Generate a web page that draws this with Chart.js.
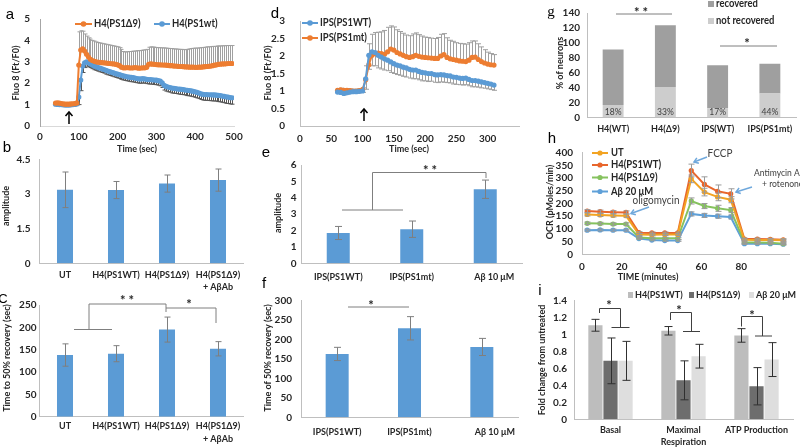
<!DOCTYPE html>
<html><head><meta charset="utf-8">
<script src="https://cdn.jsdelivr.net/npm/chart.js@4.4.1/dist/chart.umd.min.js"></script>
<style>
html,body{margin:0;padding:0;background:#fff;}
#wrap{position:relative;width:800px;height:447px;overflow:hidden;background:#fff;}
canvas{position:absolute;left:0;top:0;}
</style></head><body><div id="wrap">
<canvas id="ca" width="800" height="447"></canvas>
<canvas id="cd" width="800" height="447"></canvas>
<canvas id="cg" width="800" height="447"></canvas>
<canvas id="cb" width="800" height="447"></canvas>
<canvas id="ce" width="800" height="447"></canvas>
<canvas id="ch" width="800" height="447"></canvas>
<canvas id="cc" width="800" height="447"></canvas>
<canvas id="cf" width="800" height="447"></canvas>
<canvas id="ci" width="800" height="447"></canvas>
</div>
<script>
// ---------- DATA ----------
// Panel a
const timeA = [40,45,50,55,60,65,70,75,80,85,90,95,100,105,110,115,120,125,130,135,140,145,150,155,160,165,170,175,180,185,190,195,200,205,210,215,220,225,230,235,240,245,250,255,260,265,270,275,280,285,290,295,300,305,310,315,320,325,330,335,340,345,350,355,360,365,370,375,380,385,390,395,400,405,410,415,420,425,430,435,440,445,450,455,460,465,470,475,480,485,490,495];
const a_PS1d9 = [1.07,1.08,1.07,1.05,1.03,1.02,1.02,1.02,1.03,1.04,1.05,1.08,
2.85,3.55,3.6,3.5,3.35,3.22,3.12,3.06,3.02,3.0,
2.98,2.97,2.96,2.95,2.94,2.93,2.92,2.91,2.9,2.88,
2.86,2.82,2.75,2.72,2.72,2.73,2.72,2.71,2.72,2.73,
2.72,2.7,2.71,2.72,2.72,2.74,2.88,2.9,2.89,2.88,
2.87,2.86,2.86,2.85,2.85,2.84,2.83,2.82,2.82,2.8,
2.8,2.79,2.78,2.78,2.77,2.76,2.76,2.75,2.75,2.75,
2.74,2.74,2.75,2.75,2.76,2.77,2.78,2.79,2.8,2.82,
2.84,2.86,2.88,2.89,2.9,2.9,2.91,2.92,2.92,2.92];
const a_PS1d9_err = [0.05,0.05,0.05,0.05,0.05,0.05,0.05,0.05,0.05,0.05,0.05,0.07,
1.55,0.9,0.83,0.8,0.85,0.9,0.94,0.94,0.95,0.93,
0.92,0.91,0.9,0.89,0.88,0.87,0.86,0.85,0.84,0.84,
0.84,0.84,0.83,0.76,0.74,0.74,0.76,0.77,0.78,0.77,
0.8,0.82,0.82,0.83,0.84,0.84,0.8,0.8,0.8,0.8,
0.8,0.8,0.8,0.8,0.8,0.8,0.8,0.8,0.8,0.8,
0.8,0.8,0.8,0.8,0.8,0.81,0.82,0.85,0.87,0.88,
0.9,0.9,0.9,0.91,0.91,0.91,0.92,0.91,0.91,0.9,
0.88,0.87,0.86,0.85,0.85,0.85,0.85,0.84,0.84,0.84];
const a_PS1wt = [1.02,1.01,1.0,1.0,0.99,0.98,0.98,0.98,0.99,1.0,1.01,1.03,
1.35,2.15,2.8,2.95,3.0,2.96,2.9,2.85,2.8,2.77,
2.73,2.7,2.67,2.64,2.6,2.57,2.54,2.51,2.48,2.45,
2.42,2.4,2.37,2.34,2.32,2.3,2.28,2.27,2.26,2.24,
2.22,2.2,2.2,2.21,2.2,2.18,2.17,2.17,2.16,2.15,
2.14,2.12,2.1,2.02,1.9,1.85,1.82,1.8,1.77,1.76,
1.75,1.73,1.72,1.71,1.7,1.68,1.67,1.66,1.64,1.62,
1.6,1.57,1.54,1.5,1.48,1.47,1.47,1.46,1.46,1.45,
1.45,1.44,1.43,1.42,1.4,1.38,1.36,1.35,1.33,1.32];
const a_PS1wt_err = [0.04,0.04,0.04,0.04,0.04,0.04,0.04,0.04,0.04,0.04,0.04,0.05,
0.35,0.5,0.3,0.22,0.2,0.18,0.17,0.17,0.17,0.17,
0.17,0.17,0.17,0.17,0.18,0.18,0.18,0.18,0.18,0.18,
0.18,0.18,0.19,0.19,0.19,0.19,0.19,0.2,0.2,0.2,
0.2,0.2,0.2,0.2,0.2,0.2,0.21,0.21,0.21,0.21,
0.21,0.21,0.22,0.22,0.22,0.22,0.22,0.22,0.23,0.23,
0.23,0.23,0.24,0.24,0.24,0.24,0.25,0.25,0.25,0.25,
0.26,0.26,0.26,0.26,0.27,0.27,0.27,0.27,0.28,0.28,
0.28,0.28,0.29,0.29,0.29,0.29,0.3,0.3,0.3,0.3];

// Panel d
const timeD = [60,65,70,75,80,85,90,95,100,105,110,115,120,125,130,135,140,145,150,155,160,165,170,175,180,185,190,195,200,205,210,215,220,225,230,235,240,245,250,255,260,265,270,275,280,285,290,295,300,305,310];
const d_PS1WT = [0.97,0.96,0.93,0.95,0.97,0.98,0.98,0.99,1.0,
1.35,2.02,2.12,2.1,2.02,1.97,1.92,1.88,1.83,1.78,
1.74,1.72,1.68,1.66,1.62,1.6,1.6,1.56,1.53,1.52,
1.5,1.5,1.47,1.46,1.47,1.46,1.44,1.43,1.4,1.39,
1.37,1.36,1.37,1.33,1.3,1.3,1.28,1.26,1.24,1.22,
1.2,1.17];
const d_PS1WT_err = [0.04,0.04,0.04,0.04,0.04,0.04,0.04,0.04,0.04,
0.3,0.4,0.4,0.38,0.36,0.34,0.32,0.3,0.3,0.28,
0.27,0.27,0.26,0.26,0.25,0.25,0.25,0.24,0.24,0.23,
0.23,0.22,0.22,0.22,0.21,0.21,0.2,0.2,0.2,0.2,
0.19,0.19,0.19,0.18,0.18,0.18,0.17,0.17,0.16,0.16,
0.16,0.15];
const d_PS1mt = [1.02,1.03,1.02,1.02,1.01,1.0,1.0,1.01,1.04,
1.32,1.75,2.02,2.07,2.08,2.07,2.05,2.12,2.2,2.17,
2.1,2.06,2.02,1.98,1.96,1.98,2.02,1.99,1.97,1.96,
1.95,1.94,1.93,1.93,2.0,2.04,1.96,1.92,1.9,1.88,
1.86,1.85,1.84,1.88,1.96,1.97,1.9,1.84,1.8,1.77,
1.75,1.74];
const d_PS1mt_err = [0.05,0.05,0.05,0.05,0.05,0.05,0.05,0.05,0.05,
0.4,0.6,0.6,0.6,0.6,0.62,0.68,0.7,0.66,0.66,
0.65,0.64,0.63,0.62,0.62,0.65,0.64,0.62,0.6,0.58,
0.58,0.57,0.57,0.6,0.62,0.6,0.56,0.53,0.52,0.5,
0.5,0.5,0.5,0.5,0.47,0.46,0.45,0.42,0.38,0.34,
0.32,0.3];

// Panel g
const g_labels = ['H4(WT)','H4(Δ9)','IPS(WT)','IPS(PS1mt)'];
const g_notRecovered = [16.4,40.6,12,32];
const g_recovered = [74.6,83,58,40];
const g_pct = ['18%','33%','17%','44%'];

// Panel b
const b_labels = ['UT','H4(PS1WT)','H4(PS1Δ9)',['H4(PS1Δ9)','+ AβAb']];
const b_vals = [3.18,3.17,3.45,3.6];
const b_err = [0.77,0.37,0.37,0.48];

// Panel c
const c_labels = ['UT','H4(PS1WT)','H4(PS1Δ9)',['H4(PS1Δ9)','+ AβAb']];
const c_vals = [138,141,195,152];
const c_err = [25,18,28,16];

// Panel e
const e_labels = ['IPS(PS1WT)','IPS(PS1mt)','Aβ 10 μM'];
const e_vals = [1.85,2.08,4.52];
const e_err = [0.4,0.5,0.56];

// Panel f
const f_labels = ['IPS(PS1WT)','IPS(PS1mt)','Aβ 10 μM'];
const f_vals = [163,229,181];
const f_err = [17,30,22];

// Panel h
const h_time = [2.6,9.1,15.6,22.1,28.6,35.1,41.6,48.1,54.9,61.5,68.1,74.7,81.6,88.1,94.6,101.1];
const h_UT = [157,155,153,152,78,77,78,78,297,245,226,215,57,56,56,55];
const h_WT = [170,168,166,165,85,84,84,84,330,275,248,238,60,60,59,57];
const h_d9 = [122,121,119,119,66,63,63,63,210,190,181,174,47,46,45,42];
const h_Ab = [95,96,95,95,62,56,54,54,159,153,150,147,42,42,42,40];
const h_UT_err = [6,6,6,6,4,4,4,4,15,15,15,12,4,4,4,4];
const h_WT_err = [6,6,6,6,4,4,4,4,25,30,25,20,4,4,4,4];
const h_d9_err = [5,5,5,5,4,4,4,4,12,10,12,10,4,4,4,4];
const h_Ab_err = [4,4,4,4,3,3,3,3,8,8,8,8,3,3,3,3];

// Panel i
const i_labels = ['Basal',['Maximal','Respiration'],'ATP Production'];
const i_WT = [1.11,1.045,0.99];
const i_WT_err = [0.07,0.05,0.08];
const i_d9 = [0.69,0.46,0.39];
const i_d9_err = [0.27,0.23,0.22];
const i_Ab = [0.69,0.745,0.705];
const i_Ab_err = [0.23,0.14,0.2];

// ---------- STYLE / HELPERS ----------
const FONT = 'Lato, "Open Sans", "DejaVu Sans", sans-serif';
const LETTER = '"Liberation Sans", Arial, sans-serif';
const ORANGE = '#ed7d31', BLUE = '#5b9bd5', BAR = '#5b9bd5';
Chart.defaults.font.family = FONT;
Chart.defaults.font.size = 10;
Chart.defaults.font.weight = 'bold';
Chart.defaults.color = '#262626';

function T(ctx, s, x, y, o = {}) {
  ctx.save();
  const w = o.w || 'bold';
  ctx.font = `${w} ${o.s || 10}px ${o.f || FONT}`;
  ctx.fillStyle = o.c || '#262626';
  ctx.textAlign = o.a || 'center';
  ctx.textBaseline = 'middle';
  ctx.translate(x, y);
  if (o.rot) ctx.rotate(-Math.PI / 2);
  const sx = o.sx !== undefined ? o.sx : (w === 'bold' ? 0.9 : 0.95);
  ctx.scale(sx, 1);
  ctx.fillText(s, 0, 0);
  ctx.restore();
}
function L(ctx, pts, c = '#7f7f7f', w = 1) {
  ctx.save(); ctx.strokeStyle = c; ctx.lineWidth = w; ctx.beginPath();
  pts.forEach((p, i) => i ? ctx.lineTo(p[0], p[1]) : ctx.moveTo(p[0], p[1]));
  ctx.stroke(); ctx.restore();
}
function DOT(ctx, x, y, r, c) { ctx.save(); ctx.fillStyle = c; ctx.beginPath(); ctx.arc(x, y, r, 0, Math.PI * 2); ctx.fill(); ctx.restore(); }
function RECT(ctx, x, y, w, h, c) { ctx.save(); ctx.fillStyle = c; ctx.fillRect(x, y, w, h); ctx.restore(); }
function STAR(ctx, s, x, y, size = 14, c = '#262626') {
  ctx.save(); ctx.font = `bold ${size}px ${FONT}`; ctx.fillStyle = c; ctx.textAlign = 'center'; ctx.textBaseline = 'alphabetic';
  ctx.fillText(s, x, y + 0.57 * size); ctx.restore();
}
function ARROW(ctx, x1, y1, x2, y2, c, w = 1.5, hl = 5) {
  L(ctx, [[x1, y1], [x2, y2]], c, w);
  const a = Math.atan2(y2 - y1, x2 - x1);
  L(ctx, [[x2 - hl * Math.cos(a - 0.6), y2 - hl * Math.sin(a - 0.6)], [x2, y2], [x2 - hl * Math.cos(a + 0.6), y2 - hl * Math.sin(a + 0.6)]], c, w);
}
function LETTERT(ctx, s, x, y, o = {}) { T(ctx, s, x, y, Object.assign({ w: 'normal', s: 15, f: LETTER, c: '#000', sx: 1 }, o)); }
// category labels drawn at the positions given by the chart's own x scale
function CATS(ctx, chart, labels, y0, lh, o = {}, dx = []) {
  const xs = chart.scales.x;
  labels.forEach((lab, j) => {
    const x = xs.getPixelForValue(j) + (dx[j] || 0);
    (Array.isArray(lab) ? lab : [lab]).forEach((ln, k) => T(ctx, ln, x, y0 + k * lh, o));
  });
}

function drawErr(chart, behind) {
  const ctx = chart.ctx;
  chart.data.datasets.forEach((ds, i) => {
    if (!ds.err || !!ds.errBehind !== behind) return;
    const meta = chart.getDatasetMeta(i);
    const ys = chart.scales[meta.yAxisID];
    ctx.save();
    ctx.strokeStyle = ds.errColor || '#7f7f7f';
    ctx.lineWidth = ds.errWidth || 1;
    meta.data.forEach((el, j) => {
      const v = meta.controller.getParsed(j).y, e = ds.err[j];
      const x = Math.round(el.x) + 0.5;
      const top = ys.getPixelForValue(ds.errDir === 'down' ? v : v + e);
      const bot = ys.getPixelForValue(ds.errDir === 'up' ? v : v - e);
      const cw = ds.capW || 3;
      ctx.beginPath();
      ctx.moveTo(x, top); ctx.lineTo(x, bot);
      if (ds.errDir !== 'down') { ctx.moveTo(x - cw, top); ctx.lineTo(x + cw, top); }
      if (ds.errDir !== 'up') { ctx.moveTo(x - cw, bot); ctx.lineTo(x + cw, bot); }
      ctx.stroke();
    });
    ctx.restore();
  });
}
const errPlugin = {
  id: 'errbars',
  beforeDatasetsDraw(chart) { drawErr(chart, true); },
  afterDatasetsDraw(chart) { drawErr(chart, false); }
};

function axis(o) {
  const t = { display: o.noTicks ? false : true, padding: o.pad, autoSkip: false, maxRotation: 0, minRotation: 0, color: '#262626',
    font: { size: o.fs || 10, weight: 'bold', lineHeight: 1.2 } };
  if (o.step !== undefined) t.stepSize = o.step;
  t.callback = o.cb || (v => +(+v).toFixed(3));
  const a = {
    type: o.type, stacked: !!o.stacked,
    grid: { display: false, drawTicks: false },
    border: { display: o.border !== false, color: o.bc || '#bfbfbf', width: 1 },
    ticks: t, afterFit: o.fit
  };
  if (o.type === 'category') delete t.callback;
  if (o.min !== undefined) a.min = o.min;
  if (o.max !== undefined) a.max = o.max;
  return a;
}
function mk(id, type, data, area, xo, yo, deco) {
  const XH = 20;
  xo.fit = s => { s.height = XH; };
  yo.fit = s => { s.width = area.l; };
  return new Chart(document.getElementById(id), {
    type, data,
    options: {
      responsive: false, animation: false, events: [],
      layout: { padding: { left: 0, top: area.t, right: 800 - area.r, bottom: 447 - area.b - XH } },
      plugins: { legend: { display: false }, tooltip: { enabled: false } },
      scales: { x: axis(xo), y: axis(yo) }
    },
    plugins: [errPlugin, { id: 'deco_' + id, afterDraw: c => deco(c.ctx, c) }]
  });
}
const pts = (xs, ys) => xs.map((x, i) => ({ x: x, y: ys[i] }));
function lineDs(xs, ys, color, extra) {
  return Object.assign({ data: pts(xs, ys), borderColor: color, backgroundColor: color, borderWidth: 2,
    pointRadius: 2.6, pointBorderWidth: 0, tension: 0 }, extra);
}
function barDs(vals, color, pct, extra) {
  return Object.assign({ data: vals, backgroundColor: color, categoryPercentage: 1, barPercentage: pct }, extra);
}

// ---------- PANEL a ----------
mk('ca', 'line', { datasets: [
  lineDs(timeA, a_PS1d9, ORANGE, { err: a_PS1d9_err, errDir: 'up', errColor: '#a0a0a0', errBehind: true, capW: 2 }),
  lineDs(timeA, a_PS1wt, BLUE, { err: a_PS1wt_err, errDir: 'down', errColor: '#555555', errBehind: true, capW: 2 })
]}, { l: 40, r: 234, t: 19, b: 126 },
{ type: 'linear', min: 0, max: 500, step: 100, pad: 5, bc: '#d9d9d9' },
{ type: 'linear', min: 0, max: 5, step: 1, pad: 10, bc: '#a6a6a6' },
(ctx) => {
  LETTERT(ctx, 'a', 10, 15);
  T(ctx, 'Fluo 8 (Ft/F0)', 16, 73, { rot: true });
  T(ctx, 'Time (sec)', 137, 149);
  L(ctx, [[75, 24], [92, 24]], ORANGE, 2); DOT(ctx, 83.5, 24, 2.8, ORANGE);
  T(ctx, 'H4(PS1Δ9)', 94, 24, { a: 'left', s: 10.5 });
  L(ctx, [[154, 24], [170, 24]], BLUE, 2); DOT(ctx, 162, 24, 2.8, BLUE);
  T(ctx, 'H4(PS1wt)', 172, 24, { a: 'left', s: 10.5 });
  L(ctx, [[69, 124], [69, 112]], '#000', 1.5);
  L(ctx, [[65.5, 116], [69, 112], [72.5, 116]], '#000', 1.5);
});

// ---------- PANEL d ----------
mk('cd', 'line', { datasets: [
  lineDs(timeD, d_PS1WT, BLUE, { err: d_PS1WT_err, errDir: 'down', errColor: '#a0a0a0', errBehind: true, capW: 2.5 }),
  lineDs(timeD, d_PS1mt, ORANGE, { err: d_PS1mt_err, errDir: 'up', errColor: '#a0a0a0', errBehind: true, capW: 2.5 })
]}, { l: 300, r: 519, t: 19, b: 126 },
{ type: 'linear', min: 0, max: 350, step: 50, pad: 7, cb: v => (v > 300 ? '' : v) },
{ type: 'linear', min: 0, max: 3, step: 0.5, pad: 15 },
(ctx) => {
  LETTERT(ctx, 'd', 275, 14);
  T(ctx, 'Fluo 8 (Ft/F0)', 268, 73, { rot: true });
  T(ctx, 'Time (sec)', 409, 149);
  L(ctx, [[302, 23], [318, 23]], BLUE, 2); DOT(ctx, 310, 23, 2.8, BLUE);
  T(ctx, 'IPS(PS1WT)', 320, 23, { a: 'left', s: 10.5 });
  L(ctx, [[302, 38], [318, 38]], ORANGE, 2); DOT(ctx, 310, 38, 2.8, ORANGE);
  T(ctx, 'IPS(PS1mt)', 320, 38, { a: 'left', s: 10.5 });
  L(ctx, [[364, 121], [364, 109]], '#000', 1.5);
  L(ctx, [[360.5, 113], [364, 109], [367.5, 113]], '#000', 1.5);
});

// ---------- PANEL g ----------
mk('cg', 'bar', { labels: g_labels, datasets: [
  barDs(g_notRecovered, '#cdcdcd', 0.4),
  barDs(g_recovered, '#9f9f9f', 0.4)
]}, { l: 587, r: 796, t: 12.7, b: 117.3 },
{ type: 'category', pad: 5, stacked: true, noTicks: true },
{ type: 'linear', min: 0, max: 140, step: 20, pad: 7, stacked: true },
(ctx, c) => {
  LETTERT(ctx, 'g', 551, 12, { f: '"Liberation Serif", serif' });
  T(ctx, '% of neurons', 560, 63, { rot: true });
  CATS(ctx, c, g_labels, 128.5, 12);
  RECT(ctx, 708, 1, 6, 6, '#9f9f9f'); T(ctx, 'recovered', 716, 4, { a: 'left', s: 10.5 });
  RECT(ctx, 708, 18, 6, 6, '#cdcdcd'); T(ctx, 'not recovered', 716, 21, { a: 'left', s: 10.5 });
  const m = c.getDatasetMeta(0);
  m.data.forEach((el, j) => T(ctx, g_pct[j], el.x, 112.5, { w: 'normal', s: 9, c: '#404040' }));
  L(ctx, [[616, 14], [672, 14]]); STAR(ctx, '* *', 641, 10, 13);
  L(ctx, [[720, 46], [777, 46]]); STAR(ctx, '*', 747, 41, 13);
});

// ---------- PANEL b ----------
mk('cb', 'bar', { labels: b_labels, datasets: [
  barDs(b_vals, BAR, 0.314, { err: b_err, errDir: 'both', errColor: '#7f7f7f', capW: 3 })
]}, { l: 39.5, r: 243.5, t: 159.3, b: 263.3 },
{ type: 'category', pad: 6, noTicks: true },
{ type: 'linear', min: 0, max: 4.5, step: 1.5, pad: 9 },
(ctx, c) => {
  LETTERT(ctx, 'b', 7, 148);
  T(ctx, 'amplitude', 6, 206, { rot: true });
  CATS(ctx, c, b_labels, 275, 12);
});

// ---------- PANEL e ----------
mk('ce', 'bar', { labels: e_labels, datasets: [
  barDs(e_vals, BAR, 0.313, { err: e_err, errDir: 'both', errColor: '#7f7f7f', capW: 3.5 })
]}, { l: 301.5, r: 522, t: 165, b: 263.3 },
{ type: 'category', pad: 7, noTicks: true },
{ type: 'linear', min: 0, max: 6, step: 1, pad: 5 },
(ctx, c) => {
  LETTERT(ctx, 'e', 266, 153);
  T(ctx, 'amplitude', 278, 213, { rot: true });
  CATS(ctx, c, e_labels, 277, 12, {}, [0, 0, 9]);
  L(ctx, [[342, 210], [403, 210]]);
  L(ctx, [[372.5, 210], [372.5, 172.5], [486, 172.5], [486, 178]]);
  STAR(ctx, '* *', 430, 168, 13);
});

// ---------- PANEL h ----------
const H_UT = '#f2a322', H_WT = '#e8662c', H_D9 = '#86c25f', H_AB = '#5fa0d8';
mk('ch', 'line', { datasets: [
  lineDs(h_time, h_UT, H_UT, { err: h_UT_err, errDir: 'both', errColor: '#9a9a9a', capW: 3 }),
  lineDs(h_time, h_WT, H_WT, { err: h_WT_err, errDir: 'both', errColor: '#9a9a9a', capW: 3 }),
  lineDs(h_time, h_d9, H_D9, { err: h_d9_err, errDir: 'both', errColor: '#9a9a9a', capW: 3 }),
  lineDs(h_time, h_Ab, H_AB, { err: h_Ab_err, errDir: 'both', errColor: '#9a9a9a', capW: 3 })
]}, { l: 582, r: 789, t: 152.7, b: 254.3 },
{ type: 'linear', min: 0, max: 104, step: 20, pad: 6, cb: v => (v % 20 === 0 ? v : '') },
{ type: 'linear', min: 0, max: 400, step: 50, pad: 9 },
(ctx) => {
  LETTERT(ctx, 'h', 552, 139);
  T(ctx, 'OCR (pMoles/min)', 550, 202, { rot: true });
  T(ctx, 'TIME (minutes)', 648, 277);
  const rows = [['UT', H_UT, 153], ['H4(PS1WT)', H_WT, 165], ['H4(PS1Δ9)', H_D9, 177.5], ['Aβ 20 μM', H_AB, 191.5]];
  rows.forEach(r => { L(ctx, [[592, r[2]], [608, r[2]]], r[1], 2); DOT(ctx, 600, r[2], 2.6, r[1]); T(ctx, r[0], 611, r[2], { a: 'left', s: 10.5 }); });
  T(ctx, 'oligomycin', 656, 201, { w: 'normal', s: 10.5, c: '#404040' });
  ARROW(ctx, 649, 207, 631, 213.5, '#6fa8dc');
  T(ctx, 'FCCP', 720, 154, { w: 'normal', s: 10.5, c: '#404040' });
  ARROW(ctx, 707, 157, 694, 162, '#6fa8dc');
  T(ctx, 'Antimycin A', 754, 173, { a: 'left', w: 'normal', s: 9.5, c: '#404040', sx: 0.9 });
  T(ctx, '+ rotenone', 762, 183.5, { a: 'left', w: 'normal', s: 9.5, c: '#404040', sx: 0.9 });
  ARROW(ctx, 752, 187, 736, 192, '#6fa8dc');
});

// ---------- PANEL c ----------
mk('cc', 'bar', { labels: c_labels, datasets: [
  barDs(c_vals, BAR, 0.314, { err: c_err, errDir: 'both', errColor: '#7f7f7f', capW: 3 })
]}, { l: 39.5, r: 243.5, t: 305, b: 416.7 },
{ type: 'category', pad: 3, noTicks: true },
{ type: 'linear', min: 0, max: 250, step: 50, pad: 3 },
(ctx, c) => {
  LETTERT(ctx, 'C', 3, 299, { s: 13 });
  T(ctx, 'Time to 50% recovery (sec)', 7, 358, { rot: true, s: 10 });
  CATS(ctx, c, c_labels, 426, 13);
  L(ctx, [[74, 329.5], [112, 329.5]]);
  L(ctx, [[89, 329.5], [89, 304], [166, 304], [166, 312]]);
  L(ctx, [[166, 308], [216, 308], [216, 323]]);
  STAR(ctx, '* *', 127, 298, 13);
  STAR(ctx, '*', 189, 302, 13);
});

// ---------- PANEL f ----------
mk('cf', 'bar', { labels: f_labels, datasets: [
  barDs(f_vals, BAR, 0.318, { err: f_err, errDir: 'both', errColor: '#7f7f7f', capW: 3.5 })
]}, { l: 301, r: 518, t: 300.7, b: 417.3 },
{ type: 'category', pad: 8, noTicks: true },
{ type: 'linear', min: 0, max: 300, step: 50, pad: 9 },
(ctx, c) => {
  LETTERT(ctx, 'f', 264, 284);
  T(ctx, 'Time of 50% recovery (sec)', 268, 358, { rot: true, s: 10 });
  CATS(ctx, c, f_labels, 432, 12, {}, [0, 0, 13]);
  L(ctx, [[348, 307], [409, 307]]);
  STAR(ctx, '*', 371, 303, 13);
});

// ---------- PANEL i ----------
const I_WT = '#bdbdbd', I_D9 = '#6d6d6d', I_AB = '#dedede';
mk('ci', 'bar', { labels: i_labels, datasets: [
  { data: i_WT, backgroundColor: I_WT, categoryPercentage: 0.62, barPercentage: 0.94, err: i_WT_err, errDir: 'both', errColor: '#303030', capW: 4 },
  { data: i_d9, backgroundColor: I_D9, categoryPercentage: 0.62, barPercentage: 0.94, err: i_d9_err, errDir: 'both', errColor: '#303030', capW: 4 },
  { data: i_Ab, backgroundColor: I_AB, categoryPercentage: 0.62, barPercentage: 0.94, err: i_Ab_err, errDir: 'both', errColor: '#303030', capW: 4 }
]}, { l: 574, r: 793, t: 300.7, b: 419.3 },
{ type: 'category', pad: 4, noTicks: true },
{ type: 'linear', min: 0, max: 1.4, step: 0.2, pad: 7 },
(ctx, c) => {
  LETTERT(ctx, 'i', 540, 291);
  T(ctx, 'Fold change from untreated', 542, 360, { rot: true, s: 10 });
  CATS(ctx, c, i_labels, 429.5, 12.3);
  RECT(ctx, 628, 292, 5, 6, I_WT); T(ctx, 'H4(PS1WT)', 635, 295, { a: 'left', s: 10 });
  RECT(ctx, 689, 292, 5, 6, I_D9); T(ctx, 'H4(PS1Δ9)', 696, 295, { a: 'left', s: 10 });
  RECT(ctx, 749, 292, 5, 6, I_AB); T(ctx, 'Aβ 20 μM', 756, 295, { a: 'left', s: 10 });
  const k = '#404040';
  L(ctx, [[599.5, 313], [599.5, 308.5], [620.5, 308.5], [620.5, 327.5]], k);
  L(ctx, [[611.5, 327.5], [629.5, 327.5]], k);
  STAR(ctx, '*', 609, 303, 13);
  L(ctx, [[670.5, 320], [670.5, 312.5], [691.5, 312.5], [691.5, 331.5]], k);
  L(ctx, [[683, 331.5], [700, 331.5]], k);
  STAR(ctx, '*', 679, 308, 13);
  L(ctx, [[741.5, 326.5], [741.5, 316.5], [762.5, 316.5], [762.5, 336]], k);
  L(ctx, [[755, 336], [772, 336]], k);
  STAR(ctx, '*', 752, 313, 13);
});
</script>
</body></html>
